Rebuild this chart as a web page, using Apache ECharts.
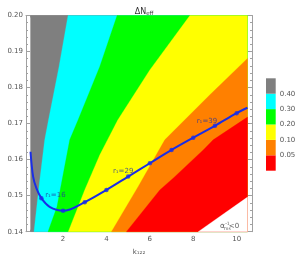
<!DOCTYPE html>
<html><head><meta charset="utf-8">
<script src="https://cdn.jsdelivr.net/npm/echarts@6/dist/echarts.min.js"></script>
<style>html,body{margin:0;padding:0;background:#fff}#c{width:297px;height:258px}</style>
</head><body><div id="c"></div>
<script>
// contour level colours (top of colour bar to bottom) and colour bar tick labels
const levelColors = ['#7f7f7f', '#00ffff', '#00ff00', '#ffff00', '#ff8000', '#ff0000'];
const levelTicks = ['0.05', '0.10', '0.20', '0.30', '0.40'];
const levelBands = [1, 1, 1, 1, 1, 1];
// axes
const xTickValues = [2, 4, 6, 8, 10];
const xMinorValues = [0.5, 1, 1.5, 2.5, 3, 3.5, 4.5, 5, 5.5, 6.5, 7, 7.5, 8.5, 9, 9.5, 10.5];
const xRange = [0.5, 10.5];
const yRange = [0.14, 0.20];
// contour boundaries (bottom -> top / right edge)
const bGrayCyan = [[0.66, 0.14], [0.9, 0.153], [1.154, 0.1655], [1.306, 0.1703], [1.814, 0.1858], [2.229, 0.20]];
const bCyanGreen = [[1.306, 0.14], [1.72, 0.1469], [2.307, 0.1655], [2.677, 0.1708], [3.69, 0.1858], [4.49, 0.20]];
const bGreenYellow = [[2.24, 0.14], [2.999, 0.1516], [3.692, 0.1613], [4.522, 0.1710], [6.0, 0.1849], [7.845, 0.20]];
const bYellowOrange = [[4.23, 0.14], [5.46, 0.1525], [6.69, 0.1655], [8.77, 0.1780], [10.5, 0.1881]];
const bOrangeRed = [[4.92, 0.14], [6.46, 0.1516], [7.1, 0.1550], [8.46, 0.1627], [8.92, 0.1655], [10.5, 0.1718]];
const bNegative = [[8.23, 0.14], [10.5, 0.1496], [10.5, 0.14]];
// r1 curve
const curveLine = [[0.5, 0.1622], [0.62, 0.1553], [0.77, 0.1521], [1, 0.1493], [1.38, 0.1469], [2, 0.1458], [3, 0.1482], [4, 0.1516], [5, 0.1553], [6, 0.159], [7, 0.1627], [8, 0.1661], [9, 0.1694], [10, 0.1729], [10.5, 0.1744]];
const curveMarkers = [[1, 0.1493], [2, 0.1458], [3, 0.1482], [4, 0.1516], [5, 0.1553], [6, 0.159], [7, 0.1627], [8, 0.1661], [9, 0.1694], [10, 0.1729]];
const r1Labels = {0: 'r₁=16', 4: 'r₁=29', 8: 'r₁=39'};
const r1Offsets = {0: [14, -3.5], 4: [-5, -5], 8: [-8, -5]};
const negLabelPos = [9.6, 0.1415];

const right = [xRange[1], yRange[1]], rb = [xRange[1], yRange[0]];
const regions = [
  {pts: [[xRange[0], yRange[0]], [xRange[0], yRange[1]], right, rb], color: levelColors[0]},
  {pts: bGrayCyan.concat([right, rb]), color: levelColors[1]},
  {pts: bCyanGreen.concat([right, rb]), color: levelColors[2]},
  {pts: bGreenYellow.concat([right, rb]), color: levelColors[3]},
  {pts: bYellowOrange.concat([rb]), color: levelColors[4]},
  {pts: bOrangeRed.concat([rb]), color: levelColors[5]},
  {pts: bNegative, color: '#ffffff'}
];

const xMin = 0.292, xMax = 10.708;
const axisCol = '#a0a0a0', labCol = '#555';
const ff = 'DejaVu Sans';

function xAx(pos, minor, labels) {
  return {
    type: 'value', gridIndex: 0, position: pos, min: xMin, max: xMax,
    axisLine: {show: !minor, lineStyle: {color: axisCol, width: 1}},
    axisTick: {show: true, inside: true, length: minor ? 2 : 4, customValues: minor ? xMinorValues : xTickValues, lineStyle: {color: axisCol}},
    axisLabel: labels ? {customValues: xTickValues, fontSize: 7, color: labCol, margin: 4, fontFamily: ff} : {show: false},
    splitLine: {show: false},
    name: labels ? 'k₁₂₂' : '', nameLocation: 'middle', nameGap: 17,
    nameTextStyle: {fontSize: 7, color: labCol, fontFamily: ff}
  };
}
function yAx(pos, labels) {
  return {
    type: 'value', gridIndex: 0, position: pos, min: yRange[0], max: yRange[1], interval: 0.01,
    axisLine: {show: true, lineStyle: {color: axisCol, width: 1}},
    axisTick: {show: true, inside: true, length: 4, lineStyle: {color: axisCol}},
    minorTick: {show: true, splitNumber: 5, length: 2, lineStyle: {color: axisCol}},
    axisLabel: labels ? {formatter: v => v.toFixed(2), fontSize: 7, color: labCol, margin: 3, fontFamily: ff} : {show: false},
    splitLine: {show: false},
    name: labels ? '{g|g}{s|s}' : '', nameLocation: 'middle', nameGap: 22, nameRotate: 90,
    nameTextStyle: {color: labCol, fontFamily: ff, rich: {g: {fontSize: 7, color: labCol}, s: {fontSize: 5, color: labCol, padding: [4, 0, 0, 0]}}}
  };
}

const option = {
  animation: false,
  backgroundColor: '#fff',
  title: {
    text: '{n|ΔN}{s|eff}', left: 139, top: 1, textAlign: 'center',
    textStyle: {fontWeight: 'normal', rich: {n: {fontSize: 8, color: '#333', fontFamily: ff, fontWeight: 'normal'}, s: {fontSize: 5.5, color: '#333', fontFamily: ff, fontWeight: 'normal', padding: [5, 0, 0, 0]}}}
  },
  grid: [
    {left: 26, right: 45, top: 15.5, bottom: 26.3, containLabel: false, outerBoundsMode: 'none'},
    {left: 266, top: 78.3, width: 9.7, height: 92.4, containLabel: false, outerBoundsMode: 'none'}
  ],
  xAxis: [xAx('bottom', false, true), xAx('bottom', true, false), xAx('top', false, false), xAx('top', true, false),
    {type: 'category', gridIndex: 1, data: [''], show: false}],
  yAxis: [yAx('left', true), yAx('right', false),
    {type: 'value', gridIndex: 1, min: 0, max: 6, interval: 1, position: 'right',
      axisLine: {show: false}, axisTick: {show: false}, splitLine: {show: false},
      axisLabel: {customValues: [1, 2, 3, 4, 5], formatter: v => levelTicks[Math.round(v) - 1], fontSize: 7, color: labCol, margin: 4, fontFamily: ff}}],
  series: [
    {
      type: 'custom', xAxisIndex: 0, yAxisIndex: 0, silent: true,
      data: regions.map((r, i) => [i]),
      encode: {x: -1, y: -1},
      renderItem: function (params, api) {
        const r = regions[params.dataIndex];
        return {type: 'polygon', shape: {points: r.pts.map(p => api.coord(p))}, style: {fill: r.color, stroke: r.color, lineWidth: 0.3}};
      },
      z: 1
    },
    {
      type: 'line', xAxisIndex: 0, yAxisIndex: 0, data: curveLine, smooth: 0.35, showSymbol: false,
      lineStyle: {color: '#1a2ee6', width: 2}, z: 3
    },
    {
      type: 'scatter', xAxisIndex: 0, yAxisIndex: 0, symbolSize: 4.5, itemStyle: {color: '#1a2ee6'}, z: 4,
      data: curveMarkers.map((p, i) => {
        const d = {value: p};
        if (r1Labels[i]) d.label = {show: true, formatter: r1Labels[i], position: 'inside', offset: r1Offsets[i], fontSize: 7, color: '#24359c', fontFamily: ff};
        return d;
      })
    },
    {
      type: 'scatter', xAxisIndex: 0, yAxisIndex: 0, symbolSize: 0, z: 5, silent: true,
      data: [
        {value: negLabelPos, label: {show: true, position: 'inside', formatter: 'α', offset: [-5.5, 0], fontSize: 7.5, color: '#333', fontFamily: ff}},
        {value: negLabelPos, label: {show: true, position: 'inside', formatter: '-1\nms', offset: [-0.5, 0], fontSize: 4.5, lineHeight: 5, color: '#333', fontFamily: ff}},
        {value: negLabelPos, label: {show: true, position: 'inside', formatter: '<0', offset: [6, 0], fontSize: 7, color: '#333', fontFamily: ff}}
      ]
    }
  ].concat(levelBands.map((v, i) => ({
    type: 'bar', xAxisIndex: 4, yAxisIndex: 2, stack: 'cb', data: [v], barWidth: '100%',
    itemStyle: {color: levelColors[levelColors.length - 1 - i]}, silent: true
  })))
};
const chart = echarts.init(document.getElementById('c'), null, {renderer: 'canvas'});
chart.setOption(option);
</script></body></html>
